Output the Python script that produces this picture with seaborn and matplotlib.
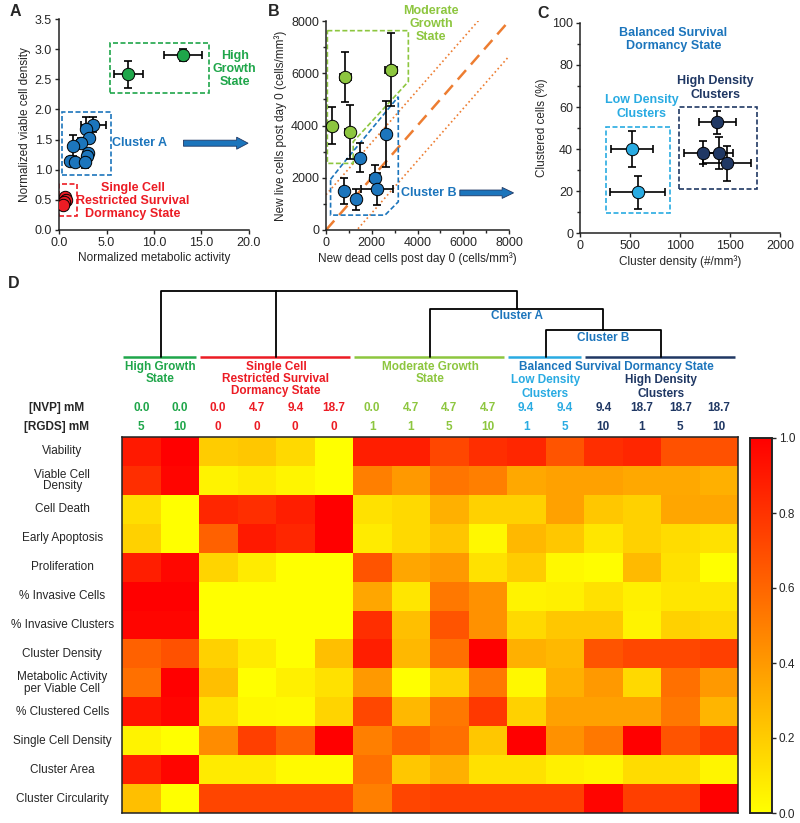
import matplotlib.pyplot as plt
import matplotlib.patches as mpatches
from matplotlib.colors import LinearSegmentedColormap
from matplotlib.ticker import MultipleLocator, FormatStrFormatter
import numpy as np
import pandas as pd
import seaborn as sns

W, H = 800, 823

GREEN_HG = "#1FA64A"
RED_SC = "#EC1C24"
GREEN_MG = "#8DC63F"
BLUE_A = "#1C75BC"
CYAN_LD = "#29ABE2"
NAVY_HD = "#203864"
ORANGE = "#ED7D31"

# ---- panel A: metabolic activity vs viable cell density ----
a_hg_x = [7.3, 13.1]
a_hg_y = [2.58, 2.91]
a_hg_xerr = [1.5, 2.0]
a_hg_yerr = [0.23, 0.1]

a_ca_x = [3.6, 2.8, 3.2, 2.3, 1.5, 3.0, 2.9, 1.2, 1.7, 2.7]
a_ca_y = [1.75, 1.67, 1.52, 1.45, 1.40, 1.27, 1.22, 1.15, 1.13, 1.13]
a_ca_xerr = [1.3, 0.4, 0.3, 0.4, 0.3, 0.3, 0.3, 0.3, 0.3, 0.3]
a_ca_yerr = [0.12, 0.2, 0.08, 0.08, 0.17, 0.08, 0.06, 0.06, 0.06, 0.1]

a_sc_x = [0.6, 0.7, 0.5, 0.45]
a_sc_y = [0.55, 0.5, 0.47, 0.42]
a_sc_xerr = [0.1, 0.1, 0.1, 0.1]
a_sc_yerr = [0.04, 0.04, 0.04, 0.04]

# ---- panel B: new dead vs new live cells ----
b_mg_x = [270, 850, 1030, 2850]
b_mg_y = [4000, 5850, 3750, 6130]
b_mg_xerr = [120, 250, 200, 250]
b_mg_yerr = [700, 950, 1050, 1400]

b_cb_x = [1500, 2630, 2130, 2230, 800, 1330]
b_cb_y = [2770, 3680, 2000, 1570, 1500, 1170]
b_cb_xerr = [200, 150, 200, 680, 200, 200]
b_cb_yerr = [550, 1250, 500, 600, 500, 400]

b_offset = 1350

# ---- panel C: cluster density vs clustered cells ----
c_ld_x = [523, 577]
c_ld_y = [40, 19.3]
c_ld_xerr = [210, 275]
c_ld_yerr = [8.7, 8]

c_hd_x = [1373, 1227, 1390, 1467]
c_hd_y = [52.8, 38.3, 38, 33.2]
c_hd_xerr = [185, 190, 140, 240]
c_hd_yerr = [5.5, 5.5, 7.5, 8.3]

# ---- panel D: heatmap ----
row_labels = ["Viability", "Viable Cell\nDensity", "Cell Death", "Early Apoptosis",
              "Proliferation", "% Invasive Cells", "% Invasive Clusters",
              "Cluster Density", "Metabolic Activity\nper Viable Cell",
              "% Clustered Cells", "Single Cell Density", "Cluster Area",
              "Cluster Circularity"]
nvp = ["0.0", "0.0", "0.0", "4.7", "9.4", "18.7", "0.0", "4.7", "4.7", "4.7",
       "9.4", "9.4", "9.4", "18.7", "18.7", "18.7"]
rgds = ["5", "10", "0", "0", "0", "0", "1", "1", "5", "10", "1", "5", "10", "1", "5", "10"]
group_names = ["HG", "SC", "MG", "LD", "HD"]
group_sizes = [2, 4, 4, 2, 4]
group_colors = [GREEN_HG, RED_SC, GREEN_MG, CYAN_LD, NAVY_HD]

heat = [
    [0.90, 1.00, 0.20, 0.22, 0.15, 0.00, 0.88, 0.88, 0.72, 0.82, 0.85, 0.67, 0.82, 0.85, 0.68, 0.68],
    [0.82, 0.98, 0.05, 0.08, 0.04, 0.00, 0.50, 0.40, 0.54, 0.50, 0.34, 0.37, 0.37, 0.34, 0.34, 0.31],
    [0.13, 0.00, 0.85, 0.82, 0.88, 1.00, 0.12, 0.15, 0.31, 0.18, 0.18, 0.37, 0.22, 0.18, 0.35, 0.35],
    [0.18, 0.00, 0.62, 0.90, 0.85, 1.00, 0.08, 0.15, 0.23, 0.03, 0.28, 0.22, 0.10, 0.18, 0.14, 0.12],
    [0.88, 0.97, 0.17, 0.08, 0.00, 0.00, 0.67, 0.35, 0.40, 0.12, 0.20, 0.03, 0.01, 0.27, 0.12, 0.00],
    [1.00, 1.00, 0.00, 0.00, 0.00, 0.00, 0.35, 0.10, 0.53, 0.43, 0.05, 0.06, 0.12, 0.06, 0.10, 0.10],
    [0.98, 0.98, 0.00, 0.00, 0.00, 0.00, 0.82, 0.25, 0.67, 0.43, 0.15, 0.22, 0.22, 0.05, 0.18, 0.16],
    [0.62, 0.68, 0.18, 0.08, 0.00, 0.25, 0.88, 0.28, 0.56, 1.00, 0.31, 0.28, 0.67, 0.72, 0.72, 0.75],
    [0.56, 1.00, 0.25, 0.00, 0.06, 0.12, 0.40, 0.00, 0.18, 0.53, 0.03, 0.31, 0.40, 0.15, 0.56, 0.40],
    [0.92, 0.98, 0.12, 0.03, 0.02, 0.17, 0.72, 0.28, 0.53, 0.78, 0.18, 0.37, 0.37, 0.37, 0.53, 0.29],
    [0.05, 0.00, 0.45, 0.75, 0.62, 1.00, 0.50, 0.62, 0.56, 0.22, 1.00, 0.43, 0.53, 1.00, 0.67, 0.78],
    [0.88, 0.98, 0.08, 0.08, 0.02, 0.02, 0.56, 0.22, 0.31, 0.12, 0.12, 0.06, 0.04, 0.14, 0.14, 0.04],
    [0.25, 0.00, 0.73, 0.73, 0.73, 0.73, 0.50, 0.73, 0.75, 0.75, 0.75, 0.75, 0.98, 0.75, 0.75, 1.00],
]

# dendrogram merge heights (relative, 0 = leaves, 1 = root)
merge_b = 0.40   # LD + HD
merge_a = 0.72   # MG + cluster B
merge_root = 1.0

sns.set_style("ticks")
plt.rcParams["font.family"] = ["Liberation Sans", "DejaVu Sans"]
plt.rcParams["font.size"] = 8.5
plt.rcParams["axes.linewidth"] = 1.1
plt.rcParams["axes.edgecolor"] = "#222222"


def px_axes(fig, x0, y0, x1, y1):
    return fig.add_axes([x0 / W, 1 - y1 / H, (x1 - x0) / W, (y1 - y0) / H])


def points(ax, x, y, xerr, yerr, color):
    ax.errorbar(x, y, xerr=xerr, yerr=yerr, fmt="none", ecolor="black",
                elinewidth=1.2, capsize=3, capthick=1.2, zorder=2)
    sns.scatterplot(x=x, y=y, color=color, edgecolor="black", linewidth=0.7,
                    s=80, ax=ax, zorder=3, legend=False)


def dashed_box(ax, x0, y0, x1, y1, color):
    ax.add_patch(mpatches.Rectangle((x0, y0), x1 - x0, y1 - y0, fill=False,
                                    ec=color, lw=1.2, ls=(0, (3, 1.5)), zorder=1))


def style_scatter_ax(ax):
    sns.despine(ax=ax)
    ax.tick_params(length=3, width=1, labelsize=9, pad=2)
    ax.tick_params(which="minor", length=2, width=1)


fig = plt.figure(figsize=(W / 100, H / 100), dpi=100)

# ---------------- A ----------------
ax = px_axes(fig, 59, 19, 249, 230)
points(ax, a_hg_x, a_hg_y, a_hg_xerr, a_hg_yerr, GREEN_HG)
points(ax, a_ca_x, a_ca_y, a_ca_xerr, a_ca_yerr, BLUE_A)
points(ax, a_sc_x, a_sc_y, a_sc_xerr, a_sc_yerr, RED_SC)
dashed_box(ax, 5.37, 2.28, 15.8, 3.10, GREEN_HG)
dashed_box(ax, 0.28, 0.92, 5.44, 1.95, BLUE_A)
dashed_box(ax, 0.05, 0.23, 1.86, 0.77, RED_SC)
ax.text(18.5, 2.67, "High\nGrowth\nState", color=GREEN_HG, fontweight="bold",
        fontsize=9, ha="center", va="center", linespacing=1.1)
ax.text(8.5, 1.44, "Cluster A", color=BLUE_A, fontweight="bold", fontsize=9,
        ha="center", va="center")
ax.text(7.8, 0.48, "Single Cell\nRestricted Survival\nDormancy State", color=RED_SC,
        fontweight="bold", fontsize=9, ha="center", va="center", linespacing=1.1)
ax.arrow(13.1, 1.44, 6.8, 0, width=0.1, head_width=0.2, head_length=1.2,
         length_includes_head=True, fc=BLUE_A, ec=NAVY_HD, lw=0.6, clip_on=False, zorder=4)
ax.set_xlim(0, 20)
ax.set_ylim(0, 3.5)
ax.xaxis.set_major_locator(MultipleLocator(5))
ax.yaxis.set_major_locator(MultipleLocator(0.5))
ax.xaxis.set_major_formatter(FormatStrFormatter("%.1f"))
ax.yaxis.set_major_formatter(FormatStrFormatter("%.1f"))
ax.set_xlabel("Normalized metabolic activity", fontsize=8.5, labelpad=2)
ax.set_ylabel("Normalized viable cell density", fontsize=8.5, labelpad=3)
style_scatter_ax(ax)
fig.text(10 / W, 1 - 4 / H, "A", fontweight="bold", fontsize=11.5, va="top")

# ---------------- B ----------------
ax = px_axes(fig, 326, 21, 509, 230)
line_x = np.array([0, 8000])
ax.plot(line_x, line_x, color=ORANGE, lw=1.8, ls=(0, (5, 3)), zorder=1)
ax.plot(line_x, line_x + b_offset, color=ORANGE, lw=1.2, ls=":", zorder=1)
ax.plot(line_x, line_x - b_offset, color=ORANGE, lw=1.2, ls=":", zorder=1)
mg_poly = [(60, 7630), (3600, 7630), (3600, 5680), (1190, 3380), (1190, 2550), (60, 2550)]
cb_poly = [(200, 1940), (800, 2600), (3160, 5100), (3160, 1080), (2580, 570), (200, 570)]
ax.add_patch(mpatches.Polygon(mg_poly, closed=True, fill=False, ec=GREEN_MG, lw=1.2,
                              ls=(0, (3, 1.5)), zorder=1))
ax.add_patch(mpatches.Polygon(cb_poly, closed=True, fill=False, ec=BLUE_A, lw=1.2,
                              ls=(0, (3, 1.5)), zorder=1))
points(ax, b_mg_x, b_mg_y, b_mg_xerr, b_mg_yerr, GREEN_MG)
points(ax, b_cb_x, b_cb_y, b_cb_xerr, b_cb_yerr, BLUE_A)
ax.text(4600, 7870, "Moderate\nGrowth\nState", color=GREEN_MG, fontweight="bold",
        fontsize=9, ha="center", va="center", linespacing=1.1)
ax.text(4500, 1420, "Cluster B", color=BLUE_A, fontweight="bold", fontsize=9,
        ha="center", va="center")
ax.arrow(5850, 1420, 2350, 0, width=220, head_width=420, head_length=500,
         length_includes_head=True, fc=BLUE_A, ec=NAVY_HD, lw=0.6, clip_on=False, zorder=4)
ax.set_xlim(0, 8000)
ax.set_ylim(0, 8000)
ax.xaxis.set_major_locator(MultipleLocator(2000))
ax.yaxis.set_major_locator(MultipleLocator(2000))
ax.xaxis.set_minor_locator(MultipleLocator(1000))
ax.yaxis.set_minor_locator(MultipleLocator(1000))
ax.set_xlabel("New dead cells post day 0 (cells/mm³)", fontsize=8.5, labelpad=2)
ax.set_ylabel("New live cells post day 0 (cells/mm³)", fontsize=8.5, labelpad=3)
style_scatter_ax(ax)
fig.text(268 / W, 1 - 4 / H, "B", fontweight="bold", fontsize=11.5, va="top")

# ---------------- C ----------------
ax = px_axes(fig, 580, 23, 780, 233)
dashed_box(ax, 260, 9.5, 900, 50.6, CYAN_LD)
dashed_box(ax, 990, 21, 1767, 60.1, NAVY_HD)
points(ax, c_ld_x, c_ld_y, c_ld_xerr, c_ld_yerr, CYAN_LD)
points(ax, c_hd_x, c_hd_y, c_hd_xerr, c_hd_yerr, NAVY_HD)
ax.text(933, 92, "Balanced Survival\nDormancy State", color=BLUE_A, fontweight="bold",
        fontsize=9, ha="center", va="center", linespacing=1.15)
ax.text(617, 60, "Low Density\nClusters", color=CYAN_LD, fontweight="bold",
        fontsize=9, ha="center", va="center", linespacing=1.15)
ax.text(1357, 69, "High Density\nClusters", color=NAVY_HD, fontweight="bold",
        fontsize=9, ha="center", va="center", linespacing=1.15)
ax.set_xlim(0, 2000)
ax.set_ylim(0, 100)
ax.xaxis.set_major_locator(MultipleLocator(500))
ax.yaxis.set_major_locator(MultipleLocator(20))
ax.yaxis.set_minor_locator(MultipleLocator(10))
ax.set_xlabel("Cluster density (#/mm³)", fontsize=8.5, labelpad=2)
ax.set_ylabel("Clustered cells (%)", fontsize=8.5, labelpad=3)
style_scatter_ax(ax)
fig.text(537 / W, 1 - 6 / H, "C", fontweight="bold", fontsize=11.5, va="top")

# ---------------- D ----------------
ax = px_axes(fig, 122, 437, 738, 813)
cax = px_axes(fig, 750, 438, 772, 813)
cmap = LinearSegmentedColormap.from_list("yr", ["#FFFF00", "#FF0000"])
df = pd.DataFrame(heat, index=row_labels, columns=[f"{n}/{r}" for n, r in zip(nvp, rgds)])
sns.heatmap(df, ax=ax, cmap=cmap, vmin=0, vmax=1, cbar_ax=cax,
            xticklabels=False, yticklabels=True, linewidths=0)
for s in ax.spines.values():
    s.set_visible(True)
    s.set_color("#222222")
    s.set_linewidth(1.1)
ax.tick_params(axis="y", length=0, pad=43, labelsize=8.5)
for t in ax.get_yticklabels():
    t.set_rotation(0)
    t.set_ha("center")
    t.set_multialignment("center")
    t.set_linespacing(0.95)
cax.tick_params(length=3, width=1, labelsize=8.5, pad=2, direction="out")
cax.set_yticks([0, 0.2, 0.4, 0.6, 0.8, 1.0])
cax.set_yticklabels(["0.0", "0.2", "0.4", "0.6", "0.8", "1.0"])
for s in cax.spines.values():
    s.set_visible(True)
    s.set_color("#222222")
    s.set_linewidth(1.1)

# column colours from groups
col_colors = []
starts = []
pos = 0
for size, color in zip(group_sizes, group_colors):
    starts.append(pos)
    col_colors += [color] * size
    pos += size
centers = {g: s + n / 2 for g, s, n in zip(group_names, starts, group_sizes)}

y_nvp, y_rgds = -1.0, -0.35
ax.text(-1.69, y_nvp, "[NVP] mM", ha="center", va="center", fontweight="bold", fontsize=8.5)
ax.text(-1.69, y_rgds, "[RGDS] mM", ha="center", va="center", fontweight="bold", fontsize=8.5)
for i, (n, r, c) in enumerate(zip(nvp, rgds, col_colors)):
    ax.text(i + 0.5, y_nvp, n, ha="center", va="center", color=c, fontweight="bold", fontsize=8.5)
    ax.text(i + 0.5, y_rgds, r, ha="center", va="center", color=c, fontweight="bold", fontsize=8.5)

# group lines
y_base = -2.78
for s, n, c in zip(starts, group_sizes, group_colors):
    ax.plot([s + 0.03, s + n - 0.08], [y_base, y_base], color=c, lw=1.8,
            clip_on=False, solid_capstyle="butt")

y_lab = -2.64
ax.text(centers["HG"], y_lab, "High Growth\nState", color=GREEN_HG, ha="center", va="top",
        fontweight="bold", fontsize=8.5, linespacing=1.0)
ax.text(centers["SC"], y_lab, "Single Cell\nRestricted Survival\nDormancy State", color=RED_SC,
        ha="center", va="top", fontweight="bold", fontsize=8.5, linespacing=1.0)
ax.text(centers["MG"], y_lab, "Moderate Growth\nState", color=GREEN_MG, ha="center", va="top",
        fontweight="bold", fontsize=8.5, linespacing=1.0)
ax.text(12.83, y_lab, "Balanced Survival Dormancy State", color=BLUE_A, ha="center", va="top",
        fontweight="bold", fontsize=8.5)
ax.text(centers["LD"], -2.18, "Low Density\nClusters", color=CYAN_LD, ha="center", va="top",
        fontweight="bold", fontsize=8.5, linespacing=1.25)
ax.text(centers["HD"], -2.18, "High Density\nClusters", color=NAVY_HD, ha="center", va="top",
        fontweight="bold", fontsize=8.5, linespacing=1.25)

# dendrogram
span = 2.28


def hy(h):
    return y_base - h * span


def link(x_left, h_left, x_right, h_right, h):
    ax.plot([x_left, x_left, x_right, x_right], [hy(h_left), hy(h), hy(h), hy(h_right)],
            color="black", lw=1.3, clip_on=False)


xb = (centers["LD"] + centers["HD"]) / 2
link(centers["LD"], 0, centers["HD"], 0, merge_b)
xa = (centers["MG"] + xb) / 2
link(centers["MG"], 0, xb, merge_b, merge_a)
link(centers["HG"], 0, xa, merge_a, merge_root)
ax.plot([centers["SC"], centers["SC"]], [hy(0), hy(merge_root)], color="black", lw=1.3,
        clip_on=False)
ax.text(xa, hy(merge_a) + 0.25, "Cluster A", color=BLUE_A, ha="center", va="center",
        fontweight="bold", fontsize=8.5)
ax.text(xb, hy(merge_b) + 0.27, "Cluster B", color=BLUE_A, ha="center", va="center",
        fontweight="bold", fontsize=8.5)

fig.text(8 / W, 1 - 276 / H, "D", fontweight="bold", fontsize=11.5, va="top")

fig.savefig("out.png", dpi=100)
